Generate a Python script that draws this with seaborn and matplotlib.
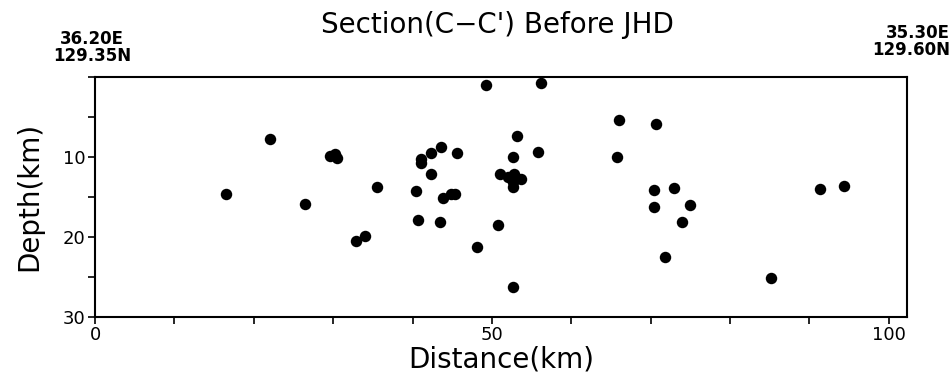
import matplotlib
matplotlib.use('Agg')
import matplotlib.pyplot as plt
import seaborn as sns
import pandas as pd
from matplotlib.ticker import MultipleLocator

# hypocentres projected on section C-C' (before JHD)
distance_km = [22.1, 29.6, 30.2, 30.5, 16.5, 26.4, 35.5, 34.0, 32.9, 40.5,
               40.7, 43.4, 43.6, 42.3, 41.1, 41.1, 42.3, 43.9, 44.9, 45.3,
               49.2, 56.2, 66.0, 70.7, 53.2, 45.6, 52.6, 55.8, 65.7, 51.0,
               52.0, 52.8, 53.7, 52.7, 52.7, 50.8, 48.1, 52.7, 70.4, 72.9,
               70.4, 74.9, 73.9, 71.8, 91.3, 94.4, 85.1]
depth_km = [7.8, 9.9, 9.7, 10.2, 14.6, 15.9, 13.8, 19.9, 20.5, 14.3,
            17.9, 18.2, 8.8, 9.5, 10.3, 10.8, 12.2, 15.2, 14.6, 14.6,
            1.0, 0.75, 5.4, 5.9, 7.4, 9.5, 10.0, 9.4, 10.0, 12.1,
            12.5, 12.2, 12.8, 13.1, 13.8, 18.5, 21.3, 26.3, 14.2, 13.9,
            16.3, 16.0, 18.2, 22.5, 14.0, 13.6, 25.1]

start_label = "36.20E\n129.35N"
end_label = "35.30E\n129.60N"

df = pd.DataFrame({'Distance': distance_km, 'Depth': depth_km})

sns.set_style('ticks')
plt.rcParams['font.family'] = ['DejaVu Sans']
plt.rcParams['text.color'] = 'black'
plt.rcParams['axes.labelcolor'] = 'black'
plt.rcParams['xtick.color'] = 'black'
plt.rcParams['ytick.color'] = 'black'

fig = plt.figure(figsize=(9.52, 3.8), dpi=100)
ax = fig.add_axes([0.0998, 0.1666, 0.853, 0.6308])

sns.scatterplot(data=df, x='Distance', y='Depth', color='black', s=68,
                edgecolor='black', linewidth=0, ax=ax)

ax.set_xlim(0, 102.3)
ax.set_ylim(30, 0)
ax.xaxis.set_major_locator(MultipleLocator(50))
ax.xaxis.set_minor_locator(MultipleLocator(10))
ax.set_yticks([10, 20, 30])
ax.yaxis.set_minor_locator(MultipleLocator(5))
ax.tick_params(which='both', direction='out', length=5, width=1.2,
               labelsize=13, pad=2)
for sp in ax.spines.values():
    sp.set_linewidth(1.5)
    sp.set_color('black')

ax.set_xlabel('Distance(km)', fontsize=20, labelpad=1)
ax.set_ylabel('Depth(km)', fontsize=20, labelpad=14)

fig.text(0.522, 0.935, "Section(C\u2212C') Before JHD", fontsize=20,
         ha='center', va='center')
fig.text(0.097, 0.875, start_label, fontsize=12, fontweight='bold',
         ha='center', va='center', linespacing=0.9)
fig.text(0.998, 0.89, end_label, fontsize=12, fontweight='bold',
         ha='right', va='center', linespacing=0.9)

fig.savefig('out.png', dpi=100)
